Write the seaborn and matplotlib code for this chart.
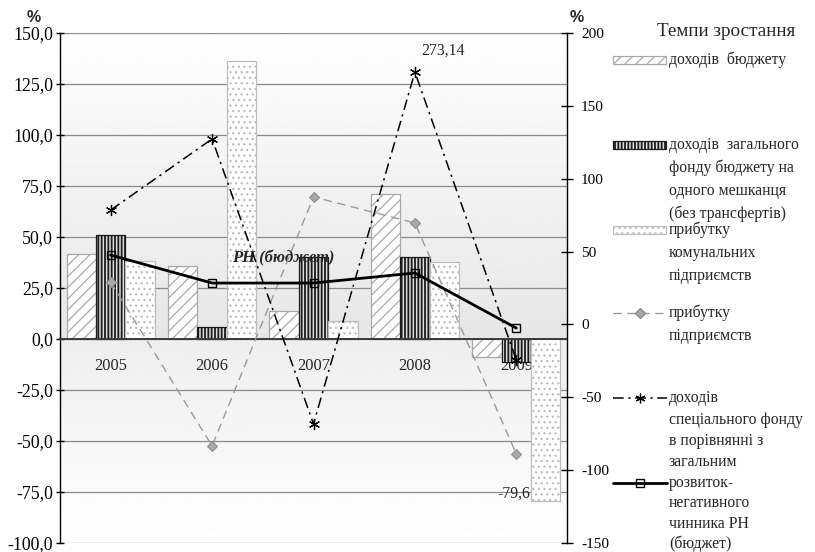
import numpy as np
import pandas as pd
import matplotlib
matplotlib.use("Agg")
import matplotlib.pyplot as plt
import seaborn as sns
from matplotlib.patches import Rectangle
from matplotlib.lines import Line2D

# ---------------- data ----------------
years = ["2005", "2006", "2007", "2008", "2009"]
# bars (left axis, %)
budget_income = [41.7, 35.8, 13.7, 71.1, -8.8]
general_fund_per_capita = [51.0, 5.9, 40.2, 40.2, -11.3]
communal_profit = [38.2, 136.3, 8.8, 37.7, -79.6]
# lines (right axis, %)
enterprise_profit = [29.1, -83.4, 87.5, 69.6, -88.9]
special_fund = [78.5, 127.3, -68.3, 173.2, -24.4]
rh_budget = [47.6, 28.4, 28.4, 35.3, -2.5]

left_ticks = [-100, -75, -50, -25, 0, 25, 50, 75, 100, 125, 150]
right_ticks = [-150, -100, -50, 0, 50, 100, 150, 200]

legend_title = "Темпи зростання"
bar_names = ["доходів  бюджету",
             "доходів  загального\nфонду бюджету на\nодного мешканця\n(без трансфертів)",
             "прибутку\nкомунальних\nпідприємств"]
line_names = ["прибутку\nпідприємств",
              "доходів\nспеціального фонду\nв порівнянні з\nзагальним",
              "розвиток-\nнегативного\nчинника РН\n(бюджет)"]
special_label = "273,14"
communal_label = "-79,6"
rh_label = "РН (бюджет)"

# ---------------- style ----------------
sns.set_style("white")
plt.rcParams['font.family'] = ['Liberation Serif', 'DejaVu Serif']
plt.rcParams['hatch.linewidth'] = 0.9
FS = 11.3

bar_faces = ["#ffffff", "#dedede", "#ffffff"]
bar_edges = ["#a8a8a8", "#1a1a1a", "#bdbdbd"]
bar_hatches = ["///", "|||||", "..."]
bar_hlw = [0.9, 1.3, 0.9]

fig = plt.figure(figsize=(8.15, 5.52), dpi=100)
ax = fig.add_axes([60 / 815, 1 - 543 / 552, 507 / 815, 510 / 552])

# background gradient
n = 600
f = np.linspace(1, 0, n)  # top -> bottom in axes fraction
zero_f = 0.4
vals = np.where(f >= zero_f,
                0.905 + (f - zero_f) / (1 - zero_f) * (0.995 - 0.905),
                0.935 + (zero_f - f) / zero_f * (1.0 - 0.935))
grad = np.repeat(vals[:, None], 2, axis=1)
ax.imshow(grad, cmap="gray", vmin=0, vmax=1, extent=[0, 1, 0, 1],
          transform=ax.transAxes, aspect="auto", zorder=-2, interpolation="bilinear")

df = pd.DataFrame({
    "year": years * 3,
    "value": budget_income + general_fund_per_capita + communal_profit,
    "series": [bar_names[0]] * 5 + [bar_names[1]] * 5 + [bar_names[2]] * 5,
})
sns.barplot(data=df, x="year", y="value", hue="series", palette=bar_faces,
            width=0.87, ax=ax, legend=False, errorbar=None, saturation=1,
            zorder=2)
for cont, h, ec, hl in zip(ax.containers, bar_hatches, bar_edges, bar_hlw):
    for b in cont:
        b.set_hatch(h)
        b.set_edgecolor(ec)
        b.set_linewidth(0.9)
        if hasattr(b, "set_hatch_linewidth"):
            b.set_hatch_linewidth(hl)

ax.set_xlim(-0.5, 4.5)
ax.set_ylim(-100, 150)
ax.set_yticks(left_ticks)
ax.set_yticklabels([f"{v:.1f}".replace(".", ",") for v in left_ticks], fontsize=12.8)
ax.tick_params(axis="y", direction="inout", length=6, width=1, pad=2, colors="black")
ax.yaxis.grid(True, color="#8a8a8a", lw=0.9)
ax.set_axisbelow(True)
ax.set_xlabel("")
ax.set_ylabel("")

ax.spines["top"].set_visible(False)
ax.spines["right"].set_visible(False)
ax.spines["left"].set_color("black")
ax.spines["left"].set_linewidth(1.0)
ax.spines["bottom"].set_position(("data", 0))
ax.spines["bottom"].set_color("#3a3a3a")
ax.spines["bottom"].set_linewidth(1.4)
ax.set_xticks(range(len(years)))
ax.set_xticklabels(years, fontsize=11.8)
ax.tick_params(axis="x", which="major", length=0, pad=14)
ax.set_xticks([0.5, 1.5, 2.5, 3.5], minor=True)
ax.tick_params(axis="x", which="minor", direction="inout", length=8, width=1, color="black")
for lab in ax.get_xticklabels():
    lab.set_zorder(5)

# ---------------- lines on secondary axis ----------------
ax2 = ax.twinx()
pos = np.arange(len(years))
sns.lineplot(x=pos, y=enterprise_profit, ax=ax2, color="#9a9a9a", lw=1.0,
             marker="D", markersize=5, markerfacecolor="#a9a9a9",
             markeredgecolor="#8c8c8c")
ax2.lines[-1].set_dashes([6, 4])
sns.lineplot(x=pos, y=special_fund, ax=ax2, color="black", lw=1.1,
             marker=(6, 2, 0), markersize=8, markeredgewidth=0.9,
             markeredgecolor="black", markerfacecolor="black")
ax2.lines[-1].set_dashes([7, 3, 1.5, 3])
sns.lineplot(x=pos, y=rh_budget, ax=ax2, color="black", lw=2.0,
             marker="s", markersize=6, markerfacecolor="none",
             markeredgecolor="black", markeredgewidth=1.0)

ax2.set_ylim(-150, 200)
ax2.set_yticks(right_ticks)
ax2.set_yticklabels([str(v) for v in right_ticks], fontsize=11)
ax2.tick_params(axis="y", direction="inout", length=9, width=1, pad=5.5, colors="black")
for s in ["top", "left", "bottom"]:
    ax2.spines[s].set_visible(False)
ax2.spines["right"].set_color("black")
ax2.spines["right"].set_linewidth(1.0)
ax2.set_xlim(-0.5, 4.5)
ax2.set_xlabel("")
ax2.set_ylabel("")

# annotations
ax2.text(3.28, 188, special_label, ha="center", va="center", fontsize=FS)
ax.text(3.98, -76, communal_label, ha="center", va="center", fontsize=FS, zorder=6)
ax.text(1.70, 39.7, rh_label, ha="center", va="center", fontsize=12,
        fontweight="bold", fontstyle="italic", zorder=6)

# % labels
fig.text(34 / 815, 1 - 18 / 552, "%", ha="center", va="center", fontsize=11.5,
         fontweight="bold", family="Liberation Sans")
fig.text(577 / 815, 1 - 18 / 552, "%", ha="center", va="center", fontsize=11.5,
         fontweight="bold", family="Liberation Sans")

# ---------------- legend ----------------
lg = fig.add_axes([0, 0, 1, 1])
lg.set_xlim(0, 815)
lg.set_ylim(552, 0)
lg.axis("off")
lg.patch.set_alpha(0)

lg.text(726, 31, legend_title, ha="center", va="center", fontsize=13.8)

bar_rows = [60, 145, 230]
bar_line_ys = [[60], [145, 168, 191, 214], [230, 253, 276]]
for i in range(3):
    y = bar_rows[i]
    r = Rectangle((613, y - 4), 53, 8, facecolor=bar_faces[i], edgecolor=bar_edges[i],
                  hatch=bar_hatches[i], lw=0.9)
    if hasattr(r, "set_hatch_linewidth"):
        r.set_hatch_linewidth(bar_hlw[i])
    lg.add_patch(r)
    for yy, txt in zip(bar_line_ys[i], bar_names[i].split("\n")):
        lg.text(669, yy, txt, ha="left", va="center", fontsize=FS)

line_rows = [313, 398, 483]
line_line_ys = [[313, 336], [398, 420, 441, 462], [483, 503, 524, 544]]
line_styles = [
    dict(color="#9a9a9a", lw=1.0, dashes=[6, 4], marker="D", ms=5, mfc="#a9a9a9", mec="#8c8c8c", mew=1.0),
    dict(color="black", lw=1.1, dashes=[7, 3, 1.5, 3], marker=(6, 2, 0), ms=7, mfc="black", mec="black", mew=0.9),
    dict(color="black", lw=2.0, dashes=None, marker="s", ms=6, mfc="none", mec="black", mew=1.0),
]
for i in range(3):
    y = line_rows[i]
    st = line_styles[i]
    ln = Line2D([613, 667], [y, y], color=st["color"], lw=st["lw"])
    if st["dashes"]:
        ln.set_dashes(st["dashes"])
    lg.add_line(ln)
    mk = Line2D([640], [y], marker=st["marker"], ms=st["ms"], mfc=st["mfc"],
                mec=st["mec"], mew=st["mew"], ls="none")
    lg.add_line(mk)
    for yy, txt in zip(line_line_ys[i], line_names[i].split("\n")):
        lg.text(669, yy, txt, ha="left", va="center", fontsize=FS)

fig.savefig("out.png", dpi=100)
